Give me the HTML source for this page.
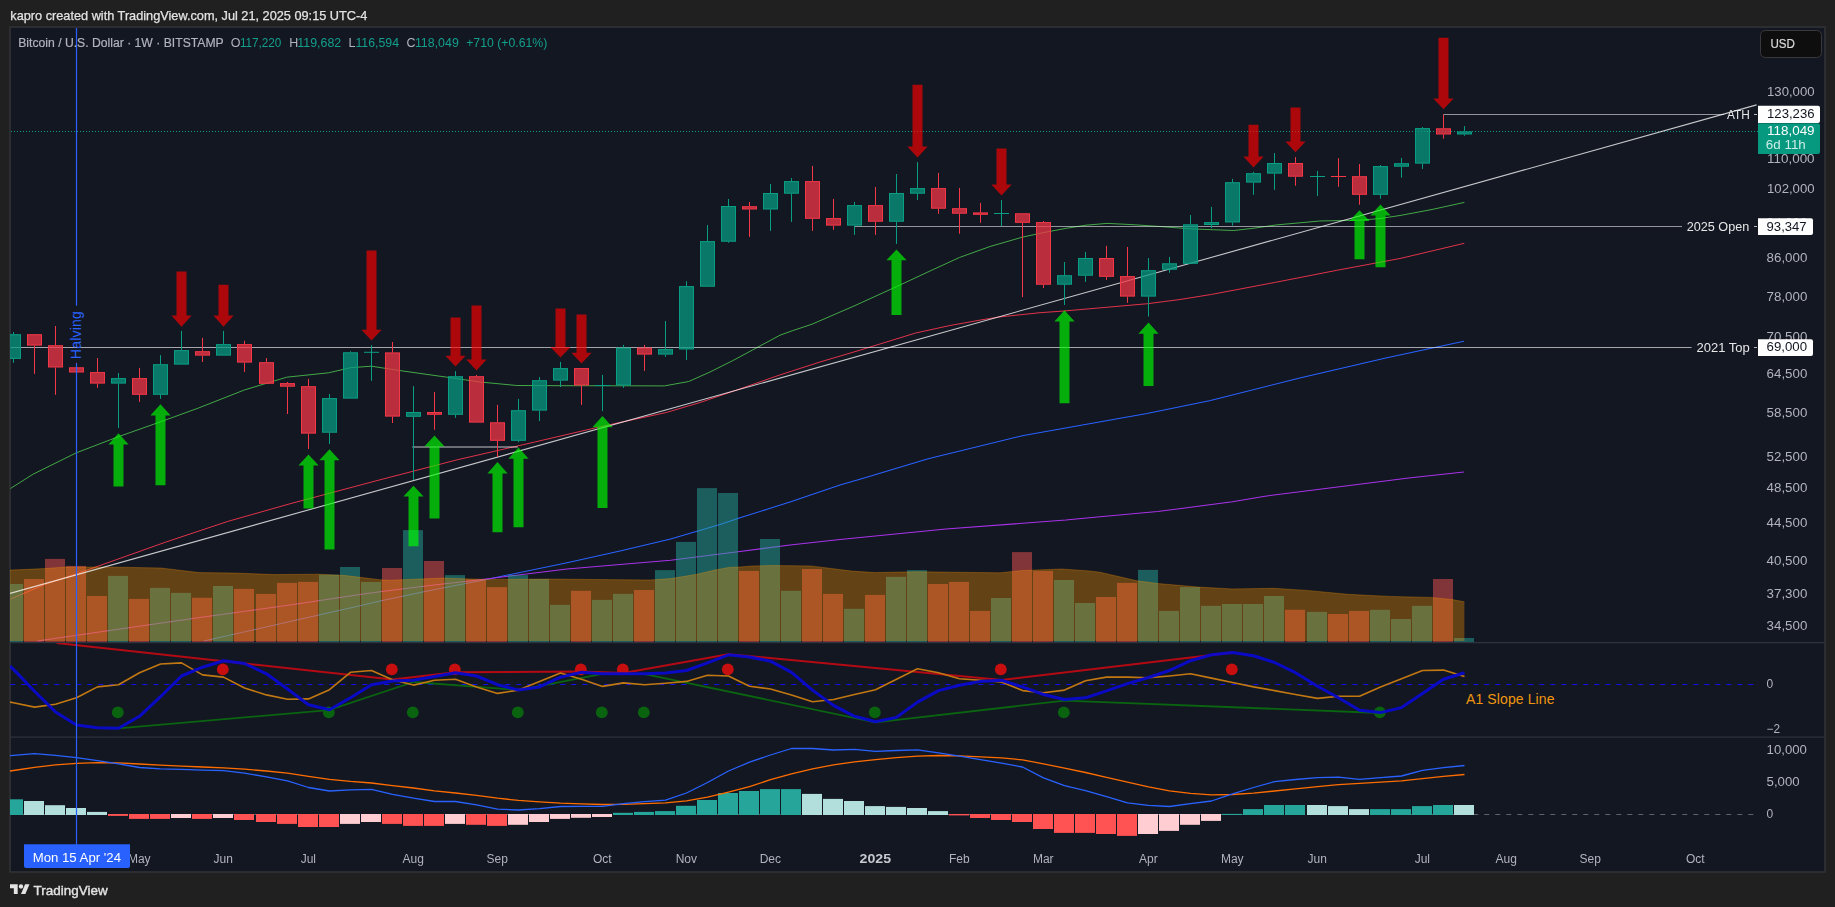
<!DOCTYPE html><html><head><meta charset="utf-8"><title>chart</title><style>html,body{margin:0;padding:0;background:#202020;width:1835px;height:907px;overflow:hidden}svg{display:block}text{font-family:"Liberation Sans",sans-serif}</style></head><body>
<svg width="1835" height="907" viewBox="0 0 1835 907">
<rect x="0" y="0" width="1835" height="907" fill="#202020"/>
<rect x="9" y="26" width="1817" height="847" fill="#2c2d30"/>
<rect x="11" y="28" width="1813" height="843" fill="#131722"/>
<defs><clipPath id="cp"><rect x="10" y="28" width="1814" height="843"/></clipPath><clipPath id="p0"><rect x="10" y="28" width="1747" height="614"/></clipPath><clipPath id="p1"><rect x="10" y="643" width="1747" height="94"/></clipPath></defs>
<g clip-path="url(#cp)">
<line x1="11" y1="131.5" x2="1758" y2="131.5" stroke="#0f9d8a" stroke-width="1" stroke-dasharray="1 2"/>
<g clip-path="url(#p0)" fill="none" stroke-linejoin="round">
<polyline points="204.0,641.1 290.0,621.5 360.0,605.7 380.0,601.1 430.0,590.5 486.3,579.4 567.1,562.8 620.0,551.0 670.6,539.0 720.0,524.5 740.0,517.8 790.0,502.0 840.0,485.1 860.8,479.0 928.2,458.7 1023.5,435.4 1147.0,413.5 1210.5,400.5 1298.7,378.2 1386.9,357.8 1463.9,341.2" stroke="#2962ff" stroke-width="1.05"/>
<polyline points="37.3,641.1 120.0,629.0 200.0,617.5 290.0,605.0 360.0,594.5 380.0,591.8 430.0,585.5 486.3,579.0 567.1,569.0 620.0,564.5 670.6,560.3 720.0,554.1 740.0,551.5 790.0,545.0 840.0,539.5 945.9,528.9 1065.8,520.1 1100.0,516.8 1157.6,511.6 1232.5,501.7 1263.4,496.4 1369.3,483.0 1408.6,478.0 1463.9,472.1" stroke="#a832ea" stroke-width="1.05"/>
<polyline points="10.4,488.5 33.1,474.2 76.3,452.8 118.4,436.7 160.3,421.9 198.5,408.0 244.3,390.0 286.7,377.2 328.6,372.8 350.6,367.7 371.3,366.2 400.0,370.6 446.2,377.1 480.0,382.0 516.7,385.5 560.0,385.7 620.0,385.8 664.5,385.9 688.7,381.5 710.0,372.0 732.8,360.6 752.5,350.0 780.0,335.2 792.2,330.8 812.0,324.2 854.0,306.0 896.4,286.7 930.0,271.0 959.7,257.4 990.0,246.5 1022.6,237.1 1044.0,232.5 1066.2,228.3 1086.0,225.2 1107.0,223.4 1130.0,224.5 1154.4,226.1 1191.8,228.9 1233.7,230.5 1254.0,228.2 1275.6,225.0 1319.7,221.0 1361.6,220.1 1380.0,218.5 1400.0,215.5 1432.0,209.5 1464.4,202.4" stroke="#43a847" stroke-width="1"/>
<polyline points="10.4,599.1 44.5,584.6 87.0,570.1 165.7,542.1 227.8,521.4 289.9,503.8 380.0,479.8 457.2,459.8 534.4,442.1 600.5,426.7 666.7,412.4 700.0,402.5 732.8,391.4 780.0,374.9 820.0,362.0 860.5,350.0 915.6,333.0 950.0,325.5 981.8,319.8 1000.0,316.9 1040.0,312.7 1064.0,311.0 1147.7,303.7 1180.0,299.5 1211.7,294.4 1275.6,282.3 1337.4,270.2 1400.0,258.5 1464.3,243.3" stroke="#e0334a" stroke-width="1"/>
</g>
<g clip-path="url(#p0)">
<rect x="3.0" y="584.0" width="20" height="58.0" fill="#26a69a" fill-opacity="0.5"/>
<rect x="24.0" y="579.0" width="20" height="63.0" fill="#ef5350" fill-opacity="0.5"/>
<rect x="45.0" y="558.9" width="20" height="83.1" fill="#ef5350" fill-opacity="0.5"/>
<rect x="66.0" y="565.9" width="20" height="76.1" fill="#ef5350" fill-opacity="0.5"/>
<rect x="87.0" y="596.0" width="20" height="46.0" fill="#ef5350" fill-opacity="0.5"/>
<rect x="108.0" y="575.9" width="20" height="66.1" fill="#26a69a" fill-opacity="0.5"/>
<rect x="129.0" y="598.9" width="20" height="43.1" fill="#ef5350" fill-opacity="0.5"/>
<rect x="150.0" y="587.9" width="20" height="54.1" fill="#26a69a" fill-opacity="0.5"/>
<rect x="171.0" y="592.9" width="20" height="49.1" fill="#26a69a" fill-opacity="0.5"/>
<rect x="192.0" y="597.8" width="20" height="44.2" fill="#ef5350" fill-opacity="0.5"/>
<rect x="213.0" y="586.0" width="20" height="56.0" fill="#26a69a" fill-opacity="0.5"/>
<rect x="234.0" y="588.9" width="20" height="53.1" fill="#ef5350" fill-opacity="0.5"/>
<rect x="256.0" y="593.9" width="20" height="48.1" fill="#ef5350" fill-opacity="0.5"/>
<rect x="277.0" y="582.9" width="20" height="59.1" fill="#ef5350" fill-opacity="0.5"/>
<rect x="298.0" y="581.9" width="20" height="60.1" fill="#ef5350" fill-opacity="0.5"/>
<rect x="319.0" y="574.6" width="20" height="67.4" fill="#26a69a" fill-opacity="0.5"/>
<rect x="340.0" y="567.0" width="20" height="75.0" fill="#26a69a" fill-opacity="0.5"/>
<rect x="361.0" y="581.9" width="20" height="60.1" fill="#26a69a" fill-opacity="0.5"/>
<rect x="382.0" y="568.0" width="20" height="74.0" fill="#ef5350" fill-opacity="0.5"/>
<rect x="403.0" y="530.1" width="20" height="111.9" fill="#26a69a" fill-opacity="0.5"/>
<rect x="424.0" y="561.0" width="20" height="81.0" fill="#ef5350" fill-opacity="0.5"/>
<rect x="445.0" y="575.1" width="20" height="66.9" fill="#26a69a" fill-opacity="0.5"/>
<rect x="466.0" y="579.4" width="20" height="62.6" fill="#ef5350" fill-opacity="0.5"/>
<rect x="487.0" y="587.1" width="20" height="54.9" fill="#ef5350" fill-opacity="0.5"/>
<rect x="508.0" y="575.1" width="20" height="66.9" fill="#26a69a" fill-opacity="0.5"/>
<rect x="529.0" y="579.0" width="20" height="63.0" fill="#26a69a" fill-opacity="0.5"/>
<rect x="550.0" y="604.9" width="20" height="37.1" fill="#26a69a" fill-opacity="0.5"/>
<rect x="571.0" y="590.8" width="20" height="51.2" fill="#ef5350" fill-opacity="0.5"/>
<rect x="592.0" y="599.9" width="20" height="42.1" fill="#26a69a" fill-opacity="0.5"/>
<rect x="613.0" y="593.9" width="20" height="48.1" fill="#26a69a" fill-opacity="0.5"/>
<rect x="634.0" y="590.0" width="20" height="52.0" fill="#ef5350" fill-opacity="0.5"/>
<rect x="655.0" y="570.1" width="20" height="71.9" fill="#26a69a" fill-opacity="0.5"/>
<rect x="676.0" y="541.9" width="20" height="100.1" fill="#26a69a" fill-opacity="0.5"/>
<rect x="697.0" y="488.1" width="20" height="153.9" fill="#26a69a" fill-opacity="0.5"/>
<rect x="718.0" y="493.0" width="20" height="149.0" fill="#26a69a" fill-opacity="0.5"/>
<rect x="739.0" y="570.9" width="20" height="71.1" fill="#ef5350" fill-opacity="0.5"/>
<rect x="760.0" y="539.0" width="20" height="103.0" fill="#26a69a" fill-opacity="0.5"/>
<rect x="781.0" y="590.8" width="20" height="51.2" fill="#26a69a" fill-opacity="0.5"/>
<rect x="802.0" y="569.0" width="20" height="73.0" fill="#ef5350" fill-opacity="0.5"/>
<rect x="823.0" y="593.9" width="20" height="48.1" fill="#ef5350" fill-opacity="0.5"/>
<rect x="844.0" y="608.8" width="20" height="33.2" fill="#26a69a" fill-opacity="0.5"/>
<rect x="865.0" y="594.9" width="20" height="47.1" fill="#ef5350" fill-opacity="0.5"/>
<rect x="886.0" y="576.9" width="20" height="65.1" fill="#26a69a" fill-opacity="0.5"/>
<rect x="907.0" y="570.1" width="20" height="71.9" fill="#26a69a" fill-opacity="0.5"/>
<rect x="928.0" y="584.0" width="20" height="58.0" fill="#ef5350" fill-opacity="0.5"/>
<rect x="949.0" y="581.9" width="20" height="60.1" fill="#ef5350" fill-opacity="0.5"/>
<rect x="970.0" y="610.9" width="20" height="31.1" fill="#ef5350" fill-opacity="0.5"/>
<rect x="991.0" y="598.0" width="20" height="44.0" fill="#26a69a" fill-opacity="0.5"/>
<rect x="1012.0" y="552.1" width="20" height="89.9" fill="#ef5350" fill-opacity="0.5"/>
<rect x="1033.0" y="570.9" width="20" height="71.1" fill="#ef5350" fill-opacity="0.5"/>
<rect x="1054.0" y="580.0" width="20" height="62.0" fill="#26a69a" fill-opacity="0.5"/>
<rect x="1075.0" y="603.0" width="20" height="39.0" fill="#26a69a" fill-opacity="0.5"/>
<rect x="1096.0" y="597.0" width="20" height="45.0" fill="#ef5350" fill-opacity="0.5"/>
<rect x="1117.0" y="582.9" width="20" height="59.1" fill="#ef5350" fill-opacity="0.5"/>
<rect x="1138.0" y="569.9" width="20" height="72.1" fill="#26a69a" fill-opacity="0.5"/>
<rect x="1159.0" y="610.9" width="20" height="31.1" fill="#26a69a" fill-opacity="0.5"/>
<rect x="1180.0" y="587.1" width="20" height="54.9" fill="#26a69a" fill-opacity="0.5"/>
<rect x="1201.0" y="605.9" width="20" height="36.1" fill="#26a69a" fill-opacity="0.5"/>
<rect x="1222.0" y="604.0" width="20" height="38.0" fill="#26a69a" fill-opacity="0.5"/>
<rect x="1243.0" y="604.0" width="20" height="38.0" fill="#26a69a" fill-opacity="0.5"/>
<rect x="1264.0" y="596.0" width="20" height="46.0" fill="#26a69a" fill-opacity="0.5"/>
<rect x="1285.0" y="609.8" width="20" height="32.2" fill="#ef5350" fill-opacity="0.5"/>
<rect x="1307.0" y="611.9" width="20" height="30.1" fill="#26a69a" fill-opacity="0.5"/>
<rect x="1328.0" y="614.0" width="20" height="28.0" fill="#ef5350" fill-opacity="0.5"/>
<rect x="1349.0" y="610.9" width="20" height="31.1" fill="#ef5350" fill-opacity="0.5"/>
<rect x="1370.0" y="609.8" width="20" height="32.2" fill="#26a69a" fill-opacity="0.5"/>
<rect x="1391.0" y="619.0" width="20" height="23.0" fill="#26a69a" fill-opacity="0.5"/>
<rect x="1412.0" y="605.9" width="20" height="36.1" fill="#26a69a" fill-opacity="0.5"/>
<rect x="1433.0" y="579.0" width="20" height="63.0" fill="#ef5350" fill-opacity="0.5"/>
<rect x="1454.0" y="638.0" width="20" height="4.0" fill="#26a69a" fill-opacity="0.5"/>
<polygon points="10.0,641.0 10.0,570.1 44.5,568.6 66.0,567.0 108.0,567.0 161.0,568.0 199.0,572.6 234.0,573.0 275.0,574.6 319.0,574.2 345.0,575.5 360.0,577.3 380.0,579.8 391.0,580.2 443.0,578.0 484.0,579.4 546.0,579.0 650.0,580.0 671.0,578.6 697.0,574.2 715.0,570.0 729.0,567.4 740.0,567.0 752.0,566.0 772.0,565.5 811.0,565.9 852.0,571.1 875.0,572.6 917.0,571.7 1000.0,572.8 1022.0,570.5 1062.0,569.0 1090.0,571.0 1100.0,572.2 1137.0,580.8 1158.0,583.5 1199.0,587.1 1232.0,588.9 1274.0,588.3 1307.0,590.4 1348.0,594.3 1390.0,596.4 1431.0,597.4 1452.0,599.5 1464.4,601.8 1464.4,641.0" fill="#ff9800" fill-opacity="0.34"/>
<polyline points="10.0,570.1 44.5,568.6 66.0,567.0 108.0,567.0 161.0,568.0 199.0,572.6 234.0,573.0 275.0,574.6 319.0,574.2 345.0,575.5 360.0,577.3 380.0,579.8 391.0,580.2 443.0,578.0 484.0,579.4 546.0,579.0 650.0,580.0 671.0,578.6 697.0,574.2 715.0,570.0 729.0,567.4 740.0,567.0 752.0,566.0 772.0,565.5 811.0,565.9 852.0,571.1 875.0,572.6 917.0,571.7 1000.0,572.8 1022.0,570.5 1062.0,569.0 1090.0,571.0 1100.0,572.2 1137.0,580.8 1158.0,583.5 1199.0,587.1 1232.0,588.9 1274.0,588.3 1307.0,590.4 1348.0,594.3 1390.0,596.4 1431.0,597.4 1452.0,599.5 1464.4,601.8" fill="none" stroke="#ff9800" stroke-opacity="0.28" stroke-width="1"/>
</g>
<line x1="10" y1="593.4" x2="1756.6" y2="104.9" stroke="#ffffff" stroke-opacity="0.76" stroke-width="1.1"/>
<line x1="11" y1="347.5" x2="1691.6" y2="347.5" stroke="#ffffff" stroke-opacity="0.62" stroke-width="1"/>
<line x1="854.5" y1="226.5" x2="1682" y2="226.5" stroke="#ffffff" stroke-opacity="0.55" stroke-width="1"/>
<line x1="1443.4" y1="114.5" x2="1724" y2="114.5" stroke="#ffffff" stroke-opacity="0.55" stroke-width="1"/>
<line x1="412.3" y1="447" x2="517.8" y2="447" stroke="#ffffff" stroke-opacity="0.5" stroke-width="1.6"/>
<line x1="13.5" y1="332.0" x2="13.5" y2="334.2" stroke="#099e84" stroke-width="1"/>
<line x1="13.5" y1="358.9" x2="13.5" y2="362.8" stroke="#099e84" stroke-width="1"/>
<rect x="6.5" y="334.7" width="14" height="23.7" fill="#089981" fill-opacity="0.75" stroke="#099e84" stroke-width="1"/>
<line x1="34.5" y1="345.6" x2="34.5" y2="373.9" stroke="#f43848" stroke-width="1"/>
<rect x="27.5" y="334.7" width="14" height="10.4" fill="#f23645" fill-opacity="0.75" stroke="#f43848" stroke-width="1"/>
<line x1="55.5" y1="326.0" x2="55.5" y2="345.2" stroke="#f43848" stroke-width="1"/>
<line x1="55.5" y1="367.5" x2="55.5" y2="394.8" stroke="#f43848" stroke-width="1"/>
<rect x="48.5" y="345.7" width="14" height="21.3" fill="#f23645" fill-opacity="0.75" stroke="#f43848" stroke-width="1"/>
<line x1="76.5" y1="362.8" x2="76.5" y2="367.3" stroke="#f43848" stroke-width="1"/>
<rect x="69.5" y="367.8" width="14" height="4.2" fill="#f23645" fill-opacity="0.75" stroke="#f43848" stroke-width="1"/>
<line x1="97.5" y1="358.0" x2="97.5" y2="372.1" stroke="#f43848" stroke-width="1"/>
<line x1="97.5" y1="383.6" x2="97.5" y2="387.8" stroke="#f43848" stroke-width="1"/>
<rect x="90.5" y="372.6" width="14" height="10.5" fill="#f23645" fill-opacity="0.75" stroke="#f43848" stroke-width="1"/>
<line x1="118.5" y1="373.0" x2="118.5" y2="378.1" stroke="#099e84" stroke-width="1"/>
<line x1="118.5" y1="383.6" x2="118.5" y2="427.9" stroke="#099e84" stroke-width="1"/>
<rect x="111.5" y="378.6" width="14" height="4.5" fill="#089981" fill-opacity="0.75" stroke="#099e84" stroke-width="1"/>
<line x1="139.5" y1="367.9" x2="139.5" y2="378.1" stroke="#f43848" stroke-width="1"/>
<line x1="139.5" y1="394.8" x2="139.5" y2="401.9" stroke="#f43848" stroke-width="1"/>
<rect x="132.5" y="378.6" width="14" height="15.7" fill="#f23645" fill-opacity="0.75" stroke="#f43848" stroke-width="1"/>
<line x1="160.5" y1="355.1" x2="160.5" y2="364.2" stroke="#099e84" stroke-width="1"/>
<line x1="160.5" y1="394.8" x2="160.5" y2="398.8" stroke="#099e84" stroke-width="1"/>
<rect x="153.5" y="364.7" width="14" height="29.6" fill="#089981" fill-opacity="0.75" stroke="#099e84" stroke-width="1"/>
<line x1="181.5" y1="330.9" x2="181.5" y2="350.1" stroke="#099e84" stroke-width="1"/>
<rect x="174.5" y="350.6" width="14" height="13.5" fill="#089981" fill-opacity="0.75" stroke="#099e84" stroke-width="1"/>
<line x1="202.5" y1="337.9" x2="202.5" y2="351.2" stroke="#f43848" stroke-width="1"/>
<line x1="202.5" y1="355.6" x2="202.5" y2="362.0" stroke="#f43848" stroke-width="1"/>
<rect x="195.5" y="351.7" width="14" height="3.4" fill="#f23645" fill-opacity="0.75" stroke="#f43848" stroke-width="1"/>
<line x1="223.5" y1="330.9" x2="223.5" y2="344.1" stroke="#099e84" stroke-width="1"/>
<rect x="216.5" y="344.6" width="14" height="10.5" fill="#089981" fill-opacity="0.75" stroke="#099e84" stroke-width="1"/>
<line x1="244.5" y1="340.8" x2="244.5" y2="344.1" stroke="#f43848" stroke-width="1"/>
<line x1="244.5" y1="362.6" x2="244.5" y2="371.9" stroke="#f43848" stroke-width="1"/>
<rect x="237.5" y="344.6" width="14" height="17.5" fill="#f23645" fill-opacity="0.75" stroke="#f43848" stroke-width="1"/>
<line x1="266.5" y1="358.0" x2="266.5" y2="362.2" stroke="#f43848" stroke-width="1"/>
<rect x="259.5" y="362.7" width="14" height="20.6" fill="#f23645" fill-opacity="0.75" stroke="#f43848" stroke-width="1"/>
<line x1="287.5" y1="382.0" x2="287.5" y2="383.1" stroke="#f43848" stroke-width="1"/>
<line x1="287.5" y1="386.7" x2="287.5" y2="414.0" stroke="#f43848" stroke-width="1"/>
<rect x="280.5" y="383.6" width="14" height="2.6" fill="#f23645" fill-opacity="0.75" stroke="#f43848" stroke-width="1"/>
<line x1="308.5" y1="378.9" x2="308.5" y2="386.2" stroke="#f43848" stroke-width="1"/>
<line x1="308.5" y1="433.6" x2="308.5" y2="449.1" stroke="#f43848" stroke-width="1"/>
<rect x="301.5" y="386.7" width="14" height="46.4" fill="#f23645" fill-opacity="0.75" stroke="#f43848" stroke-width="1"/>
<line x1="329.5" y1="393.9" x2="329.5" y2="398.1" stroke="#099e84" stroke-width="1"/>
<line x1="329.5" y1="432.7" x2="329.5" y2="444.0" stroke="#099e84" stroke-width="1"/>
<rect x="322.5" y="398.6" width="14" height="33.6" fill="#089981" fill-opacity="0.75" stroke="#099e84" stroke-width="1"/>
<line x1="350.5" y1="351.2" x2="350.5" y2="352.3" stroke="#099e84" stroke-width="1"/>
<rect x="343.5" y="352.8" width="14" height="45.3" fill="#089981" fill-opacity="0.75" stroke="#099e84" stroke-width="1"/>
<line x1="371.5" y1="345.2" x2="371.5" y2="380.9" stroke="#099e84" stroke-width="1"/>
<line x1="364.0" y1="352.3" x2="379.0" y2="352.3" stroke="#099e84" stroke-width="1"/>
<line x1="392.5" y1="342.0" x2="392.5" y2="352.4" stroke="#f43848" stroke-width="1"/>
<line x1="392.5" y1="416.6" x2="392.5" y2="423.0" stroke="#f43848" stroke-width="1"/>
<rect x="385.5" y="352.9" width="14" height="63.2" fill="#f23645" fill-opacity="0.75" stroke="#f43848" stroke-width="1"/>
<line x1="413.5" y1="386.1" x2="413.5" y2="412.0" stroke="#099e84" stroke-width="1"/>
<line x1="413.5" y1="416.8" x2="413.5" y2="479.8" stroke="#099e84" stroke-width="1"/>
<rect x="406.5" y="412.5" width="14" height="3.8" fill="#089981" fill-opacity="0.75" stroke="#099e84" stroke-width="1"/>
<line x1="434.5" y1="392.1" x2="434.5" y2="412.0" stroke="#f43848" stroke-width="1"/>
<line x1="434.5" y1="414.8" x2="434.5" y2="429.8" stroke="#f43848" stroke-width="1"/>
<rect x="427.5" y="412.5" width="14" height="1.8" fill="#f23645" fill-opacity="0.75" stroke="#f43848" stroke-width="1"/>
<line x1="455.5" y1="371.1" x2="455.5" y2="376.2" stroke="#099e84" stroke-width="1"/>
<line x1="455.5" y1="414.8" x2="455.5" y2="417.9" stroke="#099e84" stroke-width="1"/>
<rect x="448.5" y="376.7" width="14" height="37.6" fill="#089981" fill-opacity="0.75" stroke="#099e84" stroke-width="1"/>
<line x1="476.5" y1="374.9" x2="476.5" y2="376.2" stroke="#f43848" stroke-width="1"/>
<rect x="469.5" y="376.7" width="14" height="45.4" fill="#f23645" fill-opacity="0.75" stroke="#f43848" stroke-width="1"/>
<line x1="497.5" y1="404.9" x2="497.5" y2="422.3" stroke="#f43848" stroke-width="1"/>
<line x1="497.5" y1="440.8" x2="497.5" y2="456.9" stroke="#f43848" stroke-width="1"/>
<rect x="490.5" y="422.8" width="14" height="17.5" fill="#f23645" fill-opacity="0.75" stroke="#f43848" stroke-width="1"/>
<line x1="518.5" y1="398.9" x2="518.5" y2="410.2" stroke="#099e84" stroke-width="1"/>
<line x1="518.5" y1="440.8" x2="518.5" y2="442.1" stroke="#099e84" stroke-width="1"/>
<rect x="511.5" y="410.7" width="14" height="29.6" fill="#089981" fill-opacity="0.75" stroke="#099e84" stroke-width="1"/>
<line x1="539.5" y1="377.1" x2="539.5" y2="380.2" stroke="#099e84" stroke-width="1"/>
<line x1="539.5" y1="410.6" x2="539.5" y2="421.0" stroke="#099e84" stroke-width="1"/>
<rect x="532.5" y="380.7" width="14" height="29.4" fill="#089981" fill-opacity="0.75" stroke="#099e84" stroke-width="1"/>
<line x1="560.5" y1="361.9" x2="560.5" y2="368.1" stroke="#099e84" stroke-width="1"/>
<line x1="560.5" y1="380.6" x2="560.5" y2="387.0" stroke="#099e84" stroke-width="1"/>
<rect x="553.5" y="368.6" width="14" height="11.5" fill="#089981" fill-opacity="0.75" stroke="#099e84" stroke-width="1"/>
<line x1="581.5" y1="385.5" x2="581.5" y2="404.9" stroke="#f43848" stroke-width="1"/>
<rect x="574.5" y="368.6" width="14" height="16.4" fill="#f23645" fill-opacity="0.75" stroke="#f43848" stroke-width="1"/>
<line x1="602.5" y1="374.9" x2="602.5" y2="411.1" stroke="#099e84" stroke-width="1"/>
<line x1="595.0" y1="385.5" x2="610.0" y2="385.5" stroke="#099e84" stroke-width="1"/>
<line x1="623.5" y1="344.9" x2="623.5" y2="347.6" stroke="#099e84" stroke-width="1"/>
<line x1="623.5" y1="385.5" x2="623.5" y2="387.9" stroke="#099e84" stroke-width="1"/>
<rect x="616.5" y="348.1" width="14" height="36.9" fill="#089981" fill-opacity="0.75" stroke="#099e84" stroke-width="1"/>
<line x1="644.5" y1="344.9" x2="644.5" y2="347.6" stroke="#f43848" stroke-width="1"/>
<line x1="644.5" y1="354.6" x2="644.5" y2="370.9" stroke="#f43848" stroke-width="1"/>
<rect x="637.5" y="348.1" width="14" height="6.0" fill="#f23645" fill-opacity="0.75" stroke="#f43848" stroke-width="1"/>
<line x1="665.5" y1="321.0" x2="665.5" y2="349.1" stroke="#099e84" stroke-width="1"/>
<line x1="665.5" y1="354.6" x2="665.5" y2="356.8" stroke="#099e84" stroke-width="1"/>
<rect x="658.5" y="349.6" width="14" height="4.5" fill="#089981" fill-opacity="0.75" stroke="#099e84" stroke-width="1"/>
<line x1="686.5" y1="281.2" x2="686.5" y2="286.1" stroke="#099e84" stroke-width="1"/>
<line x1="686.5" y1="349.5" x2="686.5" y2="360.1" stroke="#099e84" stroke-width="1"/>
<rect x="679.5" y="286.6" width="14" height="62.4" fill="#089981" fill-opacity="0.75" stroke="#099e84" stroke-width="1"/>
<line x1="707.5" y1="225.0" x2="707.5" y2="241.1" stroke="#099e84" stroke-width="1"/>
<rect x="700.5" y="241.6" width="14" height="44.6" fill="#089981" fill-opacity="0.75" stroke="#099e84" stroke-width="1"/>
<line x1="728.5" y1="199.0" x2="728.5" y2="206.0" stroke="#099e84" stroke-width="1"/>
<line x1="728.5" y1="241.7" x2="728.5" y2="242.8" stroke="#099e84" stroke-width="1"/>
<rect x="721.5" y="206.5" width="14" height="34.7" fill="#089981" fill-opacity="0.75" stroke="#099e84" stroke-width="1"/>
<line x1="749.5" y1="202.0" x2="749.5" y2="206.2" stroke="#f43848" stroke-width="1"/>
<line x1="749.5" y1="209.5" x2="749.5" y2="236.9" stroke="#f43848" stroke-width="1"/>
<rect x="742.5" y="206.7" width="14" height="2.3" fill="#f23645" fill-opacity="0.75" stroke="#f43848" stroke-width="1"/>
<line x1="770.5" y1="184.0" x2="770.5" y2="193.0" stroke="#099e84" stroke-width="1"/>
<line x1="770.5" y1="209.5" x2="770.5" y2="230.9" stroke="#099e84" stroke-width="1"/>
<rect x="763.5" y="193.5" width="14" height="15.5" fill="#089981" fill-opacity="0.75" stroke="#099e84" stroke-width="1"/>
<line x1="791.5" y1="178.0" x2="791.5" y2="181.1" stroke="#099e84" stroke-width="1"/>
<line x1="791.5" y1="193.7" x2="791.5" y2="221.9" stroke="#099e84" stroke-width="1"/>
<rect x="784.5" y="181.6" width="14" height="11.6" fill="#089981" fill-opacity="0.75" stroke="#099e84" stroke-width="1"/>
<line x1="812.5" y1="165.9" x2="812.5" y2="181.1" stroke="#f43848" stroke-width="1"/>
<line x1="812.5" y1="218.8" x2="812.5" y2="230.9" stroke="#f43848" stroke-width="1"/>
<rect x="805.5" y="181.6" width="14" height="36.7" fill="#f23645" fill-opacity="0.75" stroke="#f43848" stroke-width="1"/>
<line x1="833.5" y1="199.0" x2="833.5" y2="218.1" stroke="#f43848" stroke-width="1"/>
<line x1="833.5" y1="225.6" x2="833.5" y2="229.8" stroke="#f43848" stroke-width="1"/>
<rect x="826.5" y="218.6" width="14" height="6.5" fill="#f23645" fill-opacity="0.75" stroke="#f43848" stroke-width="1"/>
<line x1="854.5" y1="202.0" x2="854.5" y2="205.1" stroke="#099e84" stroke-width="1"/>
<line x1="854.5" y1="225.6" x2="854.5" y2="234.9" stroke="#099e84" stroke-width="1"/>
<rect x="847.5" y="205.6" width="14" height="19.5" fill="#089981" fill-opacity="0.75" stroke="#099e84" stroke-width="1"/>
<line x1="875.5" y1="187.0" x2="875.5" y2="205.1" stroke="#f43848" stroke-width="1"/>
<line x1="875.5" y1="221.7" x2="875.5" y2="234.9" stroke="#f43848" stroke-width="1"/>
<rect x="868.5" y="205.6" width="14" height="15.6" fill="#f23645" fill-opacity="0.75" stroke="#f43848" stroke-width="1"/>
<line x1="896.5" y1="174.0" x2="896.5" y2="193.0" stroke="#099e84" stroke-width="1"/>
<line x1="896.5" y1="221.7" x2="896.5" y2="243.9" stroke="#099e84" stroke-width="1"/>
<rect x="889.5" y="193.5" width="14" height="27.7" fill="#089981" fill-opacity="0.75" stroke="#099e84" stroke-width="1"/>
<line x1="917.5" y1="162.1" x2="917.5" y2="188.1" stroke="#099e84" stroke-width="1"/>
<line x1="917.5" y1="193.7" x2="917.5" y2="200.0" stroke="#099e84" stroke-width="1"/>
<rect x="910.5" y="188.6" width="14" height="4.6" fill="#089981" fill-opacity="0.75" stroke="#099e84" stroke-width="1"/>
<line x1="938.5" y1="172.9" x2="938.5" y2="188.1" stroke="#f43848" stroke-width="1"/>
<line x1="938.5" y1="208.7" x2="938.5" y2="213.9" stroke="#f43848" stroke-width="1"/>
<rect x="931.5" y="188.6" width="14" height="19.6" fill="#f23645" fill-opacity="0.75" stroke="#f43848" stroke-width="1"/>
<line x1="959.5" y1="187.9" x2="959.5" y2="208.2" stroke="#f43848" stroke-width="1"/>
<line x1="959.5" y1="213.7" x2="959.5" y2="233.8" stroke="#f43848" stroke-width="1"/>
<rect x="952.5" y="208.7" width="14" height="4.5" fill="#f23645" fill-opacity="0.75" stroke="#f43848" stroke-width="1"/>
<line x1="980.5" y1="202.9" x2="980.5" y2="212.4" stroke="#f43848" stroke-width="1"/>
<line x1="980.5" y1="214.8" x2="980.5" y2="222.8" stroke="#f43848" stroke-width="1"/>
<rect x="973.5" y="212.9" width="14" height="1.4" fill="#f23645" fill-opacity="0.75" stroke="#f43848" stroke-width="1"/>
<line x1="1001.5" y1="200.0" x2="1001.5" y2="226.1" stroke="#099e84" stroke-width="1"/>
<line x1="994.0" y1="213.5" x2="1009.0" y2="213.5" stroke="#099e84" stroke-width="1"/>
<line x1="1022.5" y1="222.8" x2="1022.5" y2="297.1" stroke="#f43848" stroke-width="1"/>
<rect x="1015.5" y="213.8" width="14" height="8.5" fill="#f23645" fill-opacity="0.75" stroke="#f43848" stroke-width="1"/>
<line x1="1043.5" y1="221.0" x2="1043.5" y2="222.1" stroke="#f43848" stroke-width="1"/>
<line x1="1043.5" y1="284.7" x2="1043.5" y2="288.0" stroke="#f43848" stroke-width="1"/>
<rect x="1036.5" y="222.6" width="14" height="61.6" fill="#f23645" fill-opacity="0.75" stroke="#f43848" stroke-width="1"/>
<line x1="1064.5" y1="262.0" x2="1064.5" y2="275.2" stroke="#099e84" stroke-width="1"/>
<line x1="1064.5" y1="284.7" x2="1064.5" y2="305.0" stroke="#099e84" stroke-width="1"/>
<rect x="1057.5" y="275.7" width="14" height="8.5" fill="#089981" fill-opacity="0.75" stroke="#099e84" stroke-width="1"/>
<line x1="1085.5" y1="251.9" x2="1085.5" y2="258.0" stroke="#099e84" stroke-width="1"/>
<line x1="1085.5" y1="275.7" x2="1085.5" y2="281.9" stroke="#099e84" stroke-width="1"/>
<rect x="1078.5" y="258.5" width="14" height="16.7" fill="#089981" fill-opacity="0.75" stroke="#099e84" stroke-width="1"/>
<line x1="1106.5" y1="245.9" x2="1106.5" y2="258.0" stroke="#f43848" stroke-width="1"/>
<line x1="1106.5" y1="276.8" x2="1106.5" y2="279.9" stroke="#f43848" stroke-width="1"/>
<rect x="1099.5" y="258.5" width="14" height="17.8" fill="#f23645" fill-opacity="0.75" stroke="#f43848" stroke-width="1"/>
<line x1="1127.5" y1="247.0" x2="1127.5" y2="276.1" stroke="#f43848" stroke-width="1"/>
<line x1="1127.5" y1="296.6" x2="1127.5" y2="302.8" stroke="#f43848" stroke-width="1"/>
<rect x="1120.5" y="276.6" width="14" height="19.5" fill="#f23645" fill-opacity="0.75" stroke="#f43848" stroke-width="1"/>
<line x1="1148.5" y1="258.0" x2="1148.5" y2="270.2" stroke="#099e84" stroke-width="1"/>
<line x1="1148.5" y1="296.6" x2="1148.5" y2="316.5" stroke="#099e84" stroke-width="1"/>
<rect x="1141.5" y="270.7" width="14" height="25.4" fill="#089981" fill-opacity="0.75" stroke="#099e84" stroke-width="1"/>
<line x1="1169.5" y1="256.9" x2="1169.5" y2="263.3" stroke="#099e84" stroke-width="1"/>
<line x1="1169.5" y1="269.7" x2="1169.5" y2="272.8" stroke="#099e84" stroke-width="1"/>
<rect x="1162.5" y="263.8" width="14" height="5.4" fill="#089981" fill-opacity="0.75" stroke="#099e84" stroke-width="1"/>
<line x1="1190.5" y1="215.0" x2="1190.5" y2="224.3" stroke="#099e84" stroke-width="1"/>
<rect x="1183.5" y="224.8" width="14" height="38.5" fill="#089981" fill-opacity="0.75" stroke="#099e84" stroke-width="1"/>
<line x1="1211.5" y1="206.9" x2="1211.5" y2="222.1" stroke="#099e84" stroke-width="1"/>
<line x1="1211.5" y1="225.0" x2="1211.5" y2="228.1" stroke="#099e84" stroke-width="1"/>
<rect x="1204.5" y="222.6" width="14" height="1.9" fill="#089981" fill-opacity="0.75" stroke="#099e84" stroke-width="1"/>
<line x1="1232.5" y1="178.9" x2="1232.5" y2="182.2" stroke="#099e84" stroke-width="1"/>
<line x1="1232.5" y1="222.5" x2="1232.5" y2="225.6" stroke="#099e84" stroke-width="1"/>
<rect x="1225.5" y="182.7" width="14" height="39.3" fill="#089981" fill-opacity="0.75" stroke="#099e84" stroke-width="1"/>
<line x1="1253.5" y1="171.8" x2="1253.5" y2="173.2" stroke="#099e84" stroke-width="1"/>
<line x1="1253.5" y1="182.6" x2="1253.5" y2="194.8" stroke="#099e84" stroke-width="1"/>
<rect x="1246.5" y="173.7" width="14" height="8.4" fill="#089981" fill-opacity="0.75" stroke="#099e84" stroke-width="1"/>
<line x1="1274.5" y1="153.1" x2="1274.5" y2="163.0" stroke="#099e84" stroke-width="1"/>
<line x1="1274.5" y1="173.6" x2="1274.5" y2="189.9" stroke="#099e84" stroke-width="1"/>
<rect x="1267.5" y="163.5" width="14" height="9.6" fill="#089981" fill-opacity="0.75" stroke="#099e84" stroke-width="1"/>
<line x1="1295.5" y1="157.1" x2="1295.5" y2="163.0" stroke="#f43848" stroke-width="1"/>
<line x1="1295.5" y1="176.7" x2="1295.5" y2="185.7" stroke="#f43848" stroke-width="1"/>
<rect x="1288.5" y="163.5" width="14" height="12.7" fill="#f23645" fill-opacity="0.75" stroke="#f43848" stroke-width="1"/>
<line x1="1317.5" y1="170.9" x2="1317.5" y2="195.9" stroke="#099e84" stroke-width="1"/>
<line x1="1310.0" y1="176.5" x2="1325.0" y2="176.5" stroke="#099e84" stroke-width="1"/>
<line x1="1338.5" y1="158.2" x2="1338.5" y2="186.8" stroke="#f43848" stroke-width="1"/>
<line x1="1331.0" y1="176.5" x2="1346.0" y2="176.5" stroke="#f43848" stroke-width="1"/>
<line x1="1359.5" y1="164.1" x2="1359.5" y2="176.2" stroke="#f43848" stroke-width="1"/>
<line x1="1359.5" y1="194.8" x2="1359.5" y2="204.7" stroke="#f43848" stroke-width="1"/>
<rect x="1352.5" y="176.7" width="14" height="17.6" fill="#f23645" fill-opacity="0.75" stroke="#f43848" stroke-width="1"/>
<line x1="1380.5" y1="165.0" x2="1380.5" y2="166.1" stroke="#099e84" stroke-width="1"/>
<line x1="1380.5" y1="194.8" x2="1380.5" y2="198.7" stroke="#099e84" stroke-width="1"/>
<rect x="1373.5" y="166.6" width="14" height="27.7" fill="#089981" fill-opacity="0.75" stroke="#099e84" stroke-width="1"/>
<line x1="1401.5" y1="157.9" x2="1401.5" y2="163.2" stroke="#099e84" stroke-width="1"/>
<line x1="1401.5" y1="166.7" x2="1401.5" y2="177.7" stroke="#099e84" stroke-width="1"/>
<rect x="1394.5" y="163.7" width="14" height="2.5" fill="#089981" fill-opacity="0.75" stroke="#099e84" stroke-width="1"/>
<line x1="1422.5" y1="127.0" x2="1422.5" y2="128.1" stroke="#099e84" stroke-width="1"/>
<line x1="1422.5" y1="163.6" x2="1422.5" y2="168.9" stroke="#099e84" stroke-width="1"/>
<rect x="1415.5" y="128.6" width="14" height="34.5" fill="#089981" fill-opacity="0.75" stroke="#099e84" stroke-width="1"/>
<line x1="1443.5" y1="114.5" x2="1443.5" y2="128.3" stroke="#f43848" stroke-width="1"/>
<line x1="1443.5" y1="134.5" x2="1443.5" y2="138.7" stroke="#f43848" stroke-width="1"/>
<rect x="1436.5" y="128.8" width="14" height="5.2" fill="#f23645" fill-opacity="0.75" stroke="#f43848" stroke-width="1"/>
<line x1="1464.5" y1="126.1" x2="1464.5" y2="131.4" stroke="#099e84" stroke-width="1"/>
<line x1="1464.5" y1="134.5" x2="1464.5" y2="135.8" stroke="#099e84" stroke-width="1"/>
<rect x="1457.5" y="131.9" width="14" height="2.1" fill="#089981" fill-opacity="0.75" stroke="#099e84" stroke-width="1"/>
<polygon points="176.5,271.5 186.5,271.5 186.5,315.6 191.6,315.6 181.5,326.7 171.4,315.6 176.5,315.6" fill="#ff0000" fill-opacity="0.65"/>
<polygon points="218.5,284.7 228.5,284.7 228.5,315.6 233.6,315.6 223.5,326.7 213.4,315.6 218.5,315.6" fill="#ff0000" fill-opacity="0.65"/>
<polygon points="366.5,250.5 376.5,250.5 376.5,329.7 381.6,329.7 371.5,340.6 361.4,329.7 366.5,329.7" fill="#ff0000" fill-opacity="0.65"/>
<polygon points="450.5,317.5 460.5,317.5 460.5,355.7 465.6,355.7 455.5,366.6 445.4,355.7 450.5,355.7" fill="#ff0000" fill-opacity="0.65"/>
<polygon points="471.5,305.5 481.5,305.5 481.5,359.6 486.6,359.6 476.5,370.5 466.4,359.6 471.5,359.6" fill="#ff0000" fill-opacity="0.65"/>
<polygon points="555.5,308.5 565.5,308.5 565.5,346.9 570.6,346.9 560.5,357.6 550.4,346.9 555.5,346.9" fill="#ff0000" fill-opacity="0.65"/>
<polygon points="576.5,314.5 586.5,314.5 586.5,352.8 591.6,352.8 581.5,363.5 571.4,352.8 576.5,352.8" fill="#ff0000" fill-opacity="0.65"/>
<polygon points="912.5,84.8 922.5,84.8 922.5,146.5 927.6,146.5 917.5,157.4 907.4,146.5 912.5,146.5" fill="#ff0000" fill-opacity="0.65"/>
<polygon points="996.5,148.6 1006.5,148.6 1006.5,184.5 1011.6,184.5 1001.5,195.4 991.4,184.5 996.5,184.5" fill="#ff0000" fill-opacity="0.65"/>
<polygon points="1248.5,124.8 1258.5,124.8 1258.5,156.4 1263.6,156.4 1253.5,167.5 1243.4,156.4 1248.5,156.4" fill="#ff0000" fill-opacity="0.65"/>
<polygon points="1290.5,107.6 1300.5,107.6 1300.5,141.4 1305.6,141.4 1295.5,152.2 1285.4,141.4 1290.5,141.4" fill="#ff0000" fill-opacity="0.65"/>
<polygon points="1438.5,37.7 1448.5,37.7 1448.5,98.4 1453.6,98.4 1443.5,109.2 1433.4,98.4 1438.5,98.4" fill="#ff0000" fill-opacity="0.65"/>
<polygon points="118.5,433.3 128.6,444.5 123.5,444.5 123.5,486.4 113.5,486.4 113.5,444.5 108.4,444.5" fill="#00ff00" fill-opacity="0.65"/>
<polygon points="160.5,404.2 170.6,415.4 165.5,415.4 165.5,485.3 155.5,485.3 155.5,415.4 150.4,415.4" fill="#00ff00" fill-opacity="0.65"/>
<polygon points="308.5,454.4 318.6,465.5 313.5,465.5 313.5,508.5 303.5,508.5 303.5,465.5 298.4,465.5" fill="#00ff00" fill-opacity="0.65"/>
<polygon points="329.5,449.3 339.6,460.2 334.5,460.2 334.5,549.5 324.5,549.5 324.5,460.2 319.4,460.2" fill="#00ff00" fill-opacity="0.65"/>
<polygon points="413.5,485.7 423.6,496.5 418.5,496.5 418.5,546.3 408.5,546.3 408.5,496.5 403.4,496.5" fill="#00ff00" fill-opacity="0.65"/>
<polygon points="434.5,435.4 444.6,446.5 439.5,446.5 439.5,518.4 429.5,518.4 429.5,446.5 424.4,446.5" fill="#00ff00" fill-opacity="0.65"/>
<polygon points="497.5,462.1 507.6,473.5 502.5,473.5 502.5,532.2 492.5,532.2 492.5,473.5 487.4,473.5" fill="#00ff00" fill-opacity="0.65"/>
<polygon points="518.5,447.4 528.6,458.7 523.5,458.7 523.5,527.2 513.5,527.2 513.5,458.7 508.4,458.7" fill="#00ff00" fill-opacity="0.65"/>
<polygon points="602.5,416.1 612.6,427.2 607.5,427.2 607.5,508.0 597.5,508.0 597.5,427.2 592.4,427.2" fill="#00ff00" fill-opacity="0.65"/>
<polygon points="896.5,249.4 906.6,260.3 901.5,260.3 901.5,314.9 891.5,314.9 891.5,260.3 886.4,260.3" fill="#00ff00" fill-opacity="0.65"/>
<polygon points="1064.5,310.2 1074.6,321.6 1069.5,321.6 1069.5,403.3 1059.5,403.3 1059.5,321.6 1054.4,321.6" fill="#00ff00" fill-opacity="0.65"/>
<polygon points="1148.5,322.4 1158.6,333.8 1153.5,333.8 1153.5,386.0 1143.5,386.0 1143.5,333.8 1138.4,333.8" fill="#00ff00" fill-opacity="0.65"/>
<polygon points="1359.5,210.3 1369.6,221.0 1364.5,221.0 1364.5,259.2 1354.5,259.2 1354.5,221.0 1349.4,221.0" fill="#00ff00" fill-opacity="0.65"/>
<polygon points="1380.5,204.4 1390.6,215.5 1385.5,215.5 1385.5,267.3 1375.5,267.3 1375.5,215.5 1370.4,215.5" fill="#00ff00" fill-opacity="0.65"/>
<line x1="10" y1="642.6" x2="1824" y2="642.6" stroke="#2e323d" stroke-width="1.2"/>
<line x1="10" y1="737.2" x2="1824" y2="737.2" stroke="#2e323d" stroke-width="1.2"/>
<g clip-path="url(#p1)" fill="none" stroke-linejoin="round" stroke-linecap="butt">
<line x1="10.3" y1="684.5" x2="1756" y2="684.5" stroke="#1212e8" stroke-width="1.2" stroke-dasharray="5 6"/>
<polyline points="118.4,728.3 328.7,710.2 413.5,682.0 518.5,690.1 602.5,673.8 643.8,673.8 875.5,722.4 1064.7,700.6 1380.3,713.0" stroke="#0a6410" stroke-width="1.8"/>
<polyline points="56.7,643.0 392.5,679.6 455.5,672.3 581.4,671.6 623.5,673.1 728.5,654.2 1001.7,679.9 1233.0,652.6" stroke="#b40a14" stroke-width="2"/>
<circle cx="222.8" cy="669.4" r="5.9" fill="#c80f0f" stroke="none"/>
<circle cx="391.8" cy="669.4" r="5.9" fill="#c80f0f" stroke="none"/>
<circle cx="454.8" cy="669.4" r="5.9" fill="#c80f0f" stroke="none"/>
<circle cx="580.8" cy="669.4" r="5.9" fill="#c80f0f" stroke="none"/>
<circle cx="622.8" cy="669.4" r="5.9" fill="#c80f0f" stroke="none"/>
<circle cx="727.8" cy="669.4" r="5.9" fill="#c80f0f" stroke="none"/>
<circle cx="1000.8" cy="669.4" r="5.9" fill="#c80f0f" stroke="none"/>
<circle cx="1231.8" cy="669.4" r="5.9" fill="#c80f0f" stroke="none"/>
<circle cx="117.8" cy="712.4" r="5.9" fill="#0a640f" stroke="none"/>
<circle cx="328.8" cy="712.4" r="5.9" fill="#0a640f" stroke="none"/>
<circle cx="412.8" cy="712.4" r="5.9" fill="#0a640f" stroke="none"/>
<circle cx="517.8" cy="712.4" r="5.9" fill="#0a640f" stroke="none"/>
<circle cx="601.8" cy="712.4" r="5.9" fill="#0a640f" stroke="none"/>
<circle cx="643.8" cy="712.4" r="5.9" fill="#0a640f" stroke="none"/>
<circle cx="874.8" cy="712.4" r="5.9" fill="#0a640f" stroke="none"/>
<circle cx="1063.8" cy="712.4" r="5.9" fill="#0a640f" stroke="none"/>
<circle cx="1379.8" cy="712.4" r="5.9" fill="#0a640f" stroke="none"/>
<polyline points="10.0,702.1 13.5,702.8 34.5,707.1 55.5,704.3 76.5,697.8 97.5,686.9 118.5,684.7 139.5,672.7 160.5,664.0 181.5,662.9 202.5,674.9 223.5,677.1 244.5,688.0 266.5,694.9 287.5,699.3 308.5,698.9 329.5,689.7 350.5,672.3 371.5,670.5 392.5,679.7 413.5,685.1 434.5,680.3 455.5,679.2 476.5,686.9 497.5,693.4 518.5,690.1 539.5,681.4 560.5,673.1 581.5,679.2 602.5,686.4 623.5,682.9 644.5,684.7 665.5,683.2 686.5,681.4 707.5,675.3 728.5,676.0 749.5,686.2 770.5,689.0 791.5,694.9 812.5,701.7 833.5,699.5 854.5,694.5 875.5,689.7 896.5,679.2 917.5,668.8 938.5,672.7 959.5,678.8 980.5,680.3 1001.5,681.9 1022.5,690.6 1043.5,692.8 1064.5,690.1 1085.5,680.8 1106.5,677.1 1127.5,677.1 1148.5,677.8 1169.5,676.0 1190.5,673.8 1211.5,678.1 1232.5,682.5 1253.5,686.9 1274.5,690.6 1295.5,694.5 1317.5,698.4 1338.5,696.2 1359.5,696.2 1380.5,686.9 1401.5,678.8 1422.5,670.5 1443.5,670.1 1464.5,676.6" stroke="#c27812" stroke-width="1.6"/>
<polyline points="10.0,666.2 13.5,669.4 34.5,691.2 55.5,711.9 76.5,725.0 97.5,727.8 118.5,728.3 139.5,716.3 160.5,696.7 181.5,676.0 202.5,667.2 223.5,660.7 244.5,663.5 266.5,673.8 287.5,689.0 308.5,704.7 329.5,709.8 350.5,697.8 371.5,684.7 392.5,681.1 413.5,680.3 434.5,676.6 455.5,672.7 476.5,676.0 497.5,684.7 518.5,690.1 539.5,686.9 560.5,677.1 581.5,672.3 602.5,673.8 623.5,673.8 644.5,673.8 665.5,673.1 686.5,670.5 707.5,662.9 728.5,654.8 749.5,657.0 770.5,661.2 791.5,672.3 812.5,690.1 833.5,705.4 854.5,716.3 875.5,721.7 896.5,717.4 917.5,702.1 938.5,690.6 959.5,685.3 980.5,681.4 1001.5,680.3 1022.5,686.9 1043.5,694.5 1064.5,699.5 1085.5,697.8 1106.5,690.8 1127.5,683.6 1148.5,677.5 1169.5,670.5 1190.5,660.7 1211.5,654.8 1232.5,652.6 1253.5,655.7 1274.5,662.5 1295.5,672.7 1317.5,686.2 1338.5,697.8 1359.5,710.2 1380.5,712.6 1401.5,707.6 1422.5,693.4 1443.5,679.2 1464.5,672.7" stroke="#0a0acd" stroke-opacity="0.95" stroke-width="3"/>
</g>
<text x="1466" y="704" font-size="14" fill="#f0960f" textLength="88.5" opacity="0.999">A1 Slope Line</text>
<line x1="10.3" y1="814.5" x2="1756" y2="814.5" stroke="#5f626e" stroke-width="1" stroke-dasharray="5 6"/>
<rect x="3.0" y="799.3" width="20" height="15.7" fill="#26a69a"/>
<rect x="24.0" y="801.0" width="20" height="14.0" fill="#b2dfdb"/>
<rect x="45.0" y="805.2" width="20" height="9.8" fill="#b2dfdb"/>
<rect x="66.0" y="808.0" width="20" height="7.0" fill="#b2dfdb"/>
<rect x="87.0" y="811.9" width="20" height="3.1" fill="#b2dfdb"/>
<rect x="108.0" y="814.0" width="20" height="1.9" fill="#ff5252"/>
<rect x="129.0" y="814.0" width="20" height="4.9" fill="#ff5252"/>
<rect x="150.0" y="814.0" width="20" height="4.9" fill="#ff5252"/>
<rect x="171.0" y="814.0" width="20" height="4.0" fill="#ffcdd2"/>
<rect x="192.0" y="814.0" width="20" height="4.9" fill="#ff5252"/>
<rect x="213.0" y="814.0" width="20" height="4.0" fill="#ffcdd2"/>
<rect x="234.0" y="814.0" width="20" height="6.0" fill="#ff5252"/>
<rect x="256.0" y="814.0" width="20" height="8.0" fill="#ff5252"/>
<rect x="277.0" y="814.0" width="20" height="9.9" fill="#ff5252"/>
<rect x="298.0" y="814.0" width="20" height="13.0" fill="#ff5252"/>
<rect x="319.0" y="814.0" width="20" height="13.0" fill="#ff5252"/>
<rect x="340.0" y="814.0" width="20" height="9.9" fill="#ffcdd2"/>
<rect x="361.0" y="814.0" width="20" height="8.0" fill="#ffcdd2"/>
<rect x="382.0" y="814.0" width="20" height="9.9" fill="#ff5252"/>
<rect x="403.0" y="814.0" width="20" height="11.9" fill="#ff5252"/>
<rect x="424.0" y="814.0" width="20" height="11.9" fill="#ff5252"/>
<rect x="445.0" y="814.0" width="20" height="9.9" fill="#ffcdd2"/>
<rect x="466.0" y="814.0" width="20" height="10.8" fill="#ff5252"/>
<rect x="487.0" y="814.0" width="20" height="11.9" fill="#ff5252"/>
<rect x="508.0" y="814.0" width="20" height="10.8" fill="#ffcdd2"/>
<rect x="529.0" y="814.0" width="20" height="8.0" fill="#ffcdd2"/>
<rect x="550.0" y="814.0" width="20" height="4.9" fill="#ffcdd2"/>
<rect x="571.0" y="814.0" width="20" height="3.8" fill="#ffcdd2"/>
<rect x="592.0" y="814.0" width="20" height="3.0" fill="#ffcdd2"/>
<rect x="613.0" y="812.8" width="20" height="2.2" fill="#26a69a"/>
<rect x="634.0" y="811.9" width="20" height="3.1" fill="#26a69a"/>
<rect x="655.0" y="811.1" width="20" height="3.9" fill="#26a69a"/>
<rect x="676.0" y="805.8" width="20" height="9.2" fill="#26a69a"/>
<rect x="697.0" y="800.0" width="20" height="15.0" fill="#26a69a"/>
<rect x="718.0" y="793.0" width="20" height="22.0" fill="#26a69a"/>
<rect x="739.0" y="791.0" width="20" height="24.0" fill="#26a69a"/>
<rect x="760.0" y="789.1" width="20" height="25.9" fill="#26a69a"/>
<rect x="781.0" y="789.1" width="20" height="25.9" fill="#26a69a"/>
<rect x="802.0" y="793.9" width="20" height="21.1" fill="#b2dfdb"/>
<rect x="823.0" y="798.9" width="20" height="16.1" fill="#b2dfdb"/>
<rect x="844.0" y="801.0" width="20" height="14.0" fill="#b2dfdb"/>
<rect x="865.0" y="806.1" width="20" height="8.9" fill="#b2dfdb"/>
<rect x="886.0" y="806.9" width="20" height="8.1" fill="#b2dfdb"/>
<rect x="907.0" y="808.0" width="20" height="7.0" fill="#b2dfdb"/>
<rect x="928.0" y="811.1" width="20" height="3.9" fill="#b2dfdb"/>
<rect x="949.0" y="814.0" width="20" height="1.4" fill="#ff5252"/>
<rect x="970.0" y="814.0" width="20" height="4.0" fill="#ff5252"/>
<rect x="991.0" y="814.0" width="20" height="6.0" fill="#ff5252"/>
<rect x="1012.0" y="814.0" width="20" height="8.0" fill="#ff5252"/>
<rect x="1033.0" y="814.0" width="20" height="15.0" fill="#ff5252"/>
<rect x="1054.0" y="814.0" width="20" height="18.9" fill="#ff5252"/>
<rect x="1075.0" y="814.0" width="20" height="18.9" fill="#ff5252"/>
<rect x="1096.0" y="814.0" width="20" height="20.0" fill="#ff5252"/>
<rect x="1117.0" y="814.0" width="20" height="21.9" fill="#ff5252"/>
<rect x="1138.0" y="814.0" width="20" height="20.0" fill="#ffcdd2"/>
<rect x="1159.0" y="814.0" width="20" height="16.9" fill="#ffcdd2"/>
<rect x="1180.0" y="814.0" width="20" height="10.8" fill="#ffcdd2"/>
<rect x="1201.0" y="814.0" width="20" height="6.9" fill="#ffcdd2"/>
<rect x="1222.0" y="813.9" width="20" height="1.1" fill="#26a69a"/>
<rect x="1243.0" y="809.1" width="20" height="5.9" fill="#26a69a"/>
<rect x="1264.0" y="805.0" width="20" height="10.0" fill="#26a69a"/>
<rect x="1285.0" y="805.0" width="20" height="10.0" fill="#26a69a"/>
<rect x="1307.0" y="805.0" width="20" height="10.0" fill="#b2dfdb"/>
<rect x="1328.0" y="806.1" width="20" height="8.9" fill="#b2dfdb"/>
<rect x="1349.0" y="809.1" width="20" height="5.9" fill="#b2dfdb"/>
<rect x="1370.0" y="809.1" width="20" height="5.9" fill="#26a69a"/>
<rect x="1391.0" y="809.1" width="20" height="5.9" fill="#26a69a"/>
<rect x="1412.0" y="806.1" width="20" height="8.9" fill="#26a69a"/>
<rect x="1433.0" y="805.0" width="20" height="10.0" fill="#26a69a"/>
<rect x="1454.0" y="805.0" width="20" height="10.0" fill="#b2dfdb"/>
<polyline points="10.0,771.0 13.5,770.5 34.5,767.3 55.5,764.9 76.5,763.3 97.5,762.7 118.5,762.9 139.5,764.0 160.5,765.1 181.5,766.2 202.5,767.0 223.5,767.9 244.5,769.2 266.5,771.0 287.5,773.1 308.5,776.4 329.5,779.3 350.5,781.4 371.5,783.0 392.5,785.6 413.5,788.0 434.5,790.8 455.5,793.0 476.5,795.4 497.5,798.2 518.5,800.4 539.5,801.9 560.5,803.2 581.5,803.9 602.5,804.5 623.5,804.3 644.5,803.7 665.5,802.8 686.5,800.8 707.5,797.1 728.5,792.1 749.5,786.7 770.5,779.7 791.5,773.8 812.5,768.8 833.5,764.9 854.5,761.8 875.5,759.6 896.5,757.7 917.5,756.1 938.5,755.5 959.5,755.9 980.5,756.8 1001.5,757.9 1022.5,759.9 1043.5,763.8 1064.5,768.1 1085.5,772.5 1106.5,777.3 1127.5,782.1 1148.5,786.9 1169.5,790.8 1190.5,793.4 1211.5,794.9 1232.5,794.5 1253.5,793.2 1274.5,791.0 1295.5,788.8 1317.5,786.7 1338.5,784.7 1359.5,783.4 1380.5,782.1 1401.5,780.8 1422.5,778.6 1443.5,776.4 1464.5,774.5" fill="none" stroke="#ff6d00" stroke-width="1.3" stroke-linejoin="round"/>
<polyline points="10.0,755.7 13.5,755.3 34.5,753.7 55.5,755.3 76.5,757.7 97.5,760.7 118.5,763.8 139.5,767.5 160.5,768.8 181.5,769.4 202.5,770.1 223.5,770.7 244.5,773.1 266.5,776.9 287.5,780.8 308.5,787.5 329.5,791.0 350.5,789.9 371.5,789.3 392.5,794.3 413.5,798.2 434.5,801.5 455.5,801.5 476.5,804.8 497.5,809.1 518.5,810.0 539.5,808.7 560.5,806.5 581.5,806.3 602.5,806.3 623.5,803.7 644.5,801.7 665.5,800.2 686.5,793.0 707.5,782.5 728.5,771.0 749.5,762.2 770.5,755.0 791.5,748.5 812.5,748.5 833.5,750.0 854.5,749.4 875.5,751.3 896.5,750.5 917.5,749.8 938.5,752.9 959.5,756.1 980.5,759.6 1001.5,763.1 1022.5,767.0 1043.5,777.9 1064.5,785.6 1085.5,790.6 1106.5,796.7 1127.5,802.8 1148.5,805.4 1169.5,806.5 1190.5,803.7 1211.5,801.0 1232.5,793.9 1253.5,787.5 1274.5,781.6 1295.5,779.5 1317.5,777.7 1338.5,777.1 1359.5,779.3 1380.5,777.7 1401.5,776.0 1422.5,770.3 1443.5,767.7 1464.5,765.5" fill="none" stroke="#2962ff" stroke-width="1.3" stroke-linejoin="round"/>
<line x1="76.5" y1="28" x2="76.5" y2="305.7" stroke="#2962ff" stroke-width="1.2"/>
<line x1="76.5" y1="363.2" x2="76.5" y2="845" stroke="#2962ff" stroke-width="1.2"/>
<text transform="translate(81.3,359.2) rotate(-90)" font-size="14" fill="#2962ff" textLength="48" opacity="0.999">Halving</text>
</g>
<g opacity="0.999">
<text x="10.3" y="19.6" font-size="12.7" fill="#e4e4e4" textLength="357.0" lengthAdjust="spacingAndGlyphs" stroke="#e4e4e4" stroke-width="0.25">kapro created with TradingView.com, Jul 21, 2025 09:15 UTC-4</text>
<text x="18.2" y="47.2" font-size="12.5" fill="#b2b5be" textLength="205.5" lengthAdjust="spacingAndGlyphs" stroke="#b2b5be" stroke-width="0.2">Bitcoin / U.S. Dollar · 1W · BITSTAMP</text>
<text x="230.7" y="47.2" font-size="12.5" fill="#b2b5be">O</text>
<text x="239.9" y="47.2" font-size="12.5" fill="#14a08c" textLength="41.5" lengthAdjust="spacingAndGlyphs">117,220</text>
<text x="289.2" y="47.2" font-size="12.5" fill="#b2b5be">H</text>
<text x="297.3" y="47.2" font-size="12.5" fill="#14a08c" textLength="43.9" lengthAdjust="spacingAndGlyphs">119,682</text>
<text x="348.6" y="47.2" font-size="12.5" fill="#b2b5be">L</text>
<text x="355.4" y="47.2" font-size="12.5" fill="#14a08c" textLength="43.6" lengthAdjust="spacingAndGlyphs">116,594</text>
<text x="406.4" y="47.2" font-size="12.5" fill="#b2b5be">C</text>
<text x="414.9" y="47.2" font-size="12.5" fill="#14a08c" textLength="43.9" lengthAdjust="spacingAndGlyphs">118,049</text>
<text x="466.2" y="47.2" font-size="12.5" fill="#14a08c" textLength="81.1" lengthAdjust="spacingAndGlyphs">+710 (+0.61%)</text>
<rect x="1760.5" y="30.5" width="61" height="27" rx="4.8" fill="#0f0f0f" stroke="#3a3a3e" stroke-width="1"/>
<text x="1770.4" y="48.2" font-size="12.5" fill="#dcdcdc" textLength="24.5" lengthAdjust="spacingAndGlyphs" stroke="#dcdcdc" stroke-width="0.2">USD</text>
<text x="1767.0" y="95.9" font-size="12" fill="#b2b5be" textLength="47.6" lengthAdjust="spacingAndGlyphs">130,000</text>
<text x="1767.0" y="163.1" font-size="12" fill="#b2b5be" textLength="47.6" lengthAdjust="spacingAndGlyphs">110,000</text>
<text x="1767.0" y="192.9" font-size="12" fill="#b2b5be" textLength="47.6" lengthAdjust="spacingAndGlyphs">102,000</text>
<text x="1766.6" y="261.7" font-size="12" fill="#b2b5be" textLength="40.7" lengthAdjust="spacingAndGlyphs">86,000</text>
<text x="1766.6" y="301.0" font-size="12" fill="#b2b5be" textLength="40.7" lengthAdjust="spacingAndGlyphs">78,000</text>
<text x="1766.6" y="341.0" font-size="12" fill="#b2b5be" textLength="40.7" lengthAdjust="spacingAndGlyphs">70,500</text>
<text x="1766.6" y="377.9" font-size="12" fill="#b2b5be" textLength="40.7" lengthAdjust="spacingAndGlyphs">64,500</text>
<text x="1766.6" y="416.7" font-size="12" fill="#b2b5be" textLength="40.7" lengthAdjust="spacingAndGlyphs">58,500</text>
<text x="1766.6" y="460.8" font-size="12" fill="#b2b5be" textLength="40.7" lengthAdjust="spacingAndGlyphs">52,500</text>
<text x="1766.6" y="491.6" font-size="12" fill="#b2b5be" textLength="40.7" lengthAdjust="spacingAndGlyphs">48,500</text>
<text x="1766.6" y="526.8" font-size="12" fill="#b2b5be" textLength="40.7" lengthAdjust="spacingAndGlyphs">44,500</text>
<text x="1766.6" y="564.9" font-size="12" fill="#b2b5be" textLength="40.7" lengthAdjust="spacingAndGlyphs">40,500</text>
<text x="1766.6" y="597.9" font-size="12" fill="#b2b5be" textLength="40.7" lengthAdjust="spacingAndGlyphs">37,300</text>
<text x="1766.6" y="630.1" font-size="12" fill="#b2b5be" textLength="40.7" lengthAdjust="spacingAndGlyphs">34,500</text>
<text x="1766.6" y="688.4" font-size="12" fill="#b2b5be">0</text>
<text x="1766.6" y="732.6" font-size="12" fill="#b2b5be" textLength="13.5" lengthAdjust="spacingAndGlyphs">−2</text>
<text x="1766.6" y="754.1" font-size="12" fill="#b2b5be" textLength="40.3" lengthAdjust="spacingAndGlyphs">10,000</text>
<text x="1766.6" y="786.1" font-size="12" fill="#b2b5be" textLength="33.0" lengthAdjust="spacingAndGlyphs">5,000</text>
<text x="1766.6" y="817.9" font-size="12" fill="#b2b5be">0</text>
<text x="1766.6" y="226.6" font-size="12" fill="#b2b5be" textLength="40.7" lengthAdjust="spacingAndGlyphs">94,000</text>
<path d="M1758 339.2 H1811 a2 2 0 0 1 2 2 V354 a2 2 0 0 1 -2 2 H1758 Z" fill="#ffffff"/>
<text x="1766.6" y="350.8" font-size="12" fill="#131722" textLength="40.5" lengthAdjust="spacingAndGlyphs">69,000</text>
<text x="1696.5" y="352.0" font-size="12.5" fill="#e8e8e8" textLength="53.3" lengthAdjust="spacingAndGlyphs">2021 Top</text>
<line x1="1754" y1="347.5" x2="1757" y2="347.5" stroke="#bbb" stroke-width="1"/>
<path d="M1758 218.3 H1811 a2 2 0 0 1 2 2 V233.1 a2 2 0 0 1 -2 2 H1758 Z" fill="#ffffff"/>
<text x="1766.6" y="230.9" font-size="12" fill="#131722" textLength="40.0" lengthAdjust="spacingAndGlyphs">93,347</text>
<text x="1686.7" y="231.0" font-size="12.5" fill="#e8e8e8" textLength="62.6" lengthAdjust="spacingAndGlyphs">2025 Open</text>
<line x1="1754" y1="226.5" x2="1757" y2="226.5" stroke="#bbb" stroke-width="1"/>
<path d="M1758 105.8 H1818 a2 2 0 0 1 2 2 V121 a2 2 0 0 1 -2 2 H1758 Z" fill="#ffffff"/>
<text x="1767.0" y="118.1" font-size="12" fill="#131722" textLength="47.6" lengthAdjust="spacingAndGlyphs">123,236</text>
<text x="1727.0" y="118.9" font-size="12.5" fill="#e8e8e8" textLength="22.8" lengthAdjust="spacingAndGlyphs">ATH</text>
<line x1="1754" y1="114.5" x2="1757" y2="114.5" stroke="#bbb" stroke-width="1"/>
<path d="M1758 123.3 H1818 a2 2 0 0 1 2 2 V151.9 a2 2 0 0 1 -2 2 H1758 Z" fill="#089981"/>
<text x="1767.0" y="135.2" font-size="12" fill="#ffffff" textLength="47.6" lengthAdjust="spacingAndGlyphs">118,049</text>
<text x="1765.8" y="149.1" font-size="12" fill="#cdeee8" textLength="40.0" lengthAdjust="spacingAndGlyphs">6d 11h</text>
<text x="139.3" y="862.8" font-size="12" fill="#b2b5be" text-anchor="middle">May</text>
<text x="223.3" y="862.8" font-size="12" fill="#b2b5be" text-anchor="middle">Jun</text>
<text x="308.3" y="862.8" font-size="12" fill="#b2b5be" text-anchor="middle">Jul</text>
<text x="413.3" y="862.8" font-size="12" fill="#b2b5be" text-anchor="middle">Aug</text>
<text x="497.3" y="862.8" font-size="12" fill="#b2b5be" text-anchor="middle">Sep</text>
<text x="602.3" y="862.8" font-size="12" fill="#b2b5be" text-anchor="middle">Oct</text>
<text x="686.3" y="862.8" font-size="12" fill="#b2b5be" text-anchor="middle">Nov</text>
<text x="770.3" y="862.8" font-size="12" fill="#b2b5be" text-anchor="middle">Dec</text>
<text x="875.3" y="862.8" font-size="12.5" fill="#c8cad0" text-anchor="middle" font-weight="bold" textLength="31.5" lengthAdjust="spacingAndGlyphs">2025</text>
<text x="959.3" y="862.8" font-size="12" fill="#b2b5be" text-anchor="middle">Feb</text>
<text x="1043.3" y="862.8" font-size="12" fill="#b2b5be" text-anchor="middle">Mar</text>
<text x="1148.3" y="862.8" font-size="12" fill="#b2b5be" text-anchor="middle">Apr</text>
<text x="1232.3" y="862.8" font-size="12" fill="#b2b5be" text-anchor="middle">May</text>
<text x="1317.3" y="862.8" font-size="12" fill="#b2b5be" text-anchor="middle">Jun</text>
<text x="1422.3" y="862.8" font-size="12" fill="#b2b5be" text-anchor="middle">Jul</text>
<text x="1506.3" y="862.8" font-size="12" fill="#b2b5be" text-anchor="middle">Aug</text>
<text x="1590.3" y="862.8" font-size="12" fill="#b2b5be" text-anchor="middle">Sep</text>
<text x="1695.3" y="862.8" font-size="12" fill="#b2b5be" text-anchor="middle">Oct</text>
<path d="M24 844.2 H130 V866 a2 2 0 0 1 -2 2 H26 a2 2 0 0 1 -2 -2 Z" fill="#2962ff"/>
<text x="32.7" y="861.8" font-size="12" fill="#ffffff" textLength="88.3" lengthAdjust="spacingAndGlyphs">Mon 15 Apr '24</text>
<g transform="translate(10,882.2) scale(0.549,0.54)" fill="#e4e4e4"><path d="M14 22H7V11H0V4h14v18z"/><circle cx="20" cy="8" r="4"/><path d="M28 22h-8l7.5-18h8L28 22z"/></g>
<text x="33.6" y="895.0" font-size="13.6" fill="#e4e4e4" textLength="74.0" lengthAdjust="spacingAndGlyphs" stroke="#e4e4e4" stroke-width="0.4">TradingView</text>
</g>
</svg></body></html>
